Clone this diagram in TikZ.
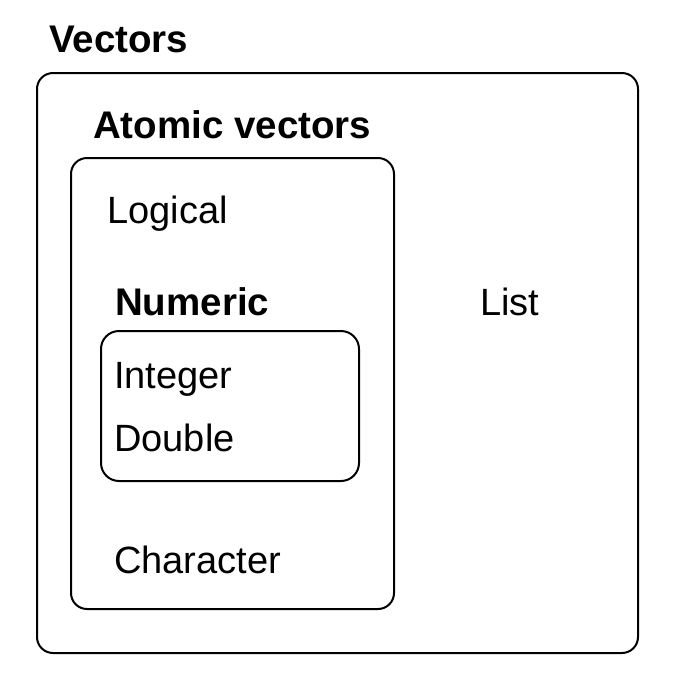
\documentclass[tikz,border=0pt]{standalone}
\usepackage{fontspec}
\setmainfont{Liberation Sans}
\begin{document}
\begin{tikzpicture}[x=1pt,y=-1pt,
  frame/.style={draw=black,line width=2pt,rounded corners=16pt},
  lbl/.style={anchor=base west,inner sep=0pt,font=\fontsize{38}{45}\selectfont},
  head/.style={anchor=base west,inner sep=0pt,font=\fontsize{38.5}{46}\selectfont\bfseries}]
\useasboundingbox (0,0) rectangle (675,689);

% nested containers
\draw[frame] (37,73) rectangle (638,653);
\draw[frame] (71,158) rectangle (394,609);
\draw[frame,rounded corners=18pt] (101,331) rectangle (359,481);

% headings
\node[head] (vectors) at (49,52) {Vectors};
\node[head] (atomic) at (93,138) {Atomic vectors};
\node[head] (numeric) at (115,315) {Numeric};

% member types
\node[lbl] (logical) at (107,223) {Logical};
\node[lbl] (integer) at (114,388) {Integer};
\node[lbl] (double) at (114,451) {Double};
\node[lbl] (character) at (114,573) {Character};
\node[lbl] (list) at (480,315) {List};
\end{tikzpicture}
\end{document}
